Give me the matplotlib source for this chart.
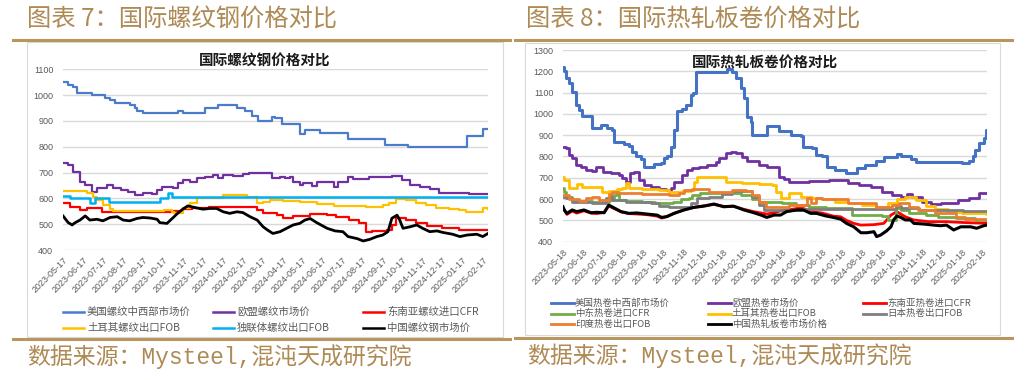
import matplotlib.pyplot as plt
import pandas as pd
from matplotlib.lines import Line2D
from matplotlib.patches import Rectangle

plt.rcParams['font.family'] = ['Noto Sans CJK SC', 'DejaVu Sans']

W, H = 1036, 380
GOLD = '#B8965E'
GOLD_TEXT = '#AE8A55'
GRID = '#D9D9D9'
LABEL = '#595959'

# ---------------- rebar (chart 7) ----------------
rebar_ticks = pd.date_range('2023-05-17', '2025-02-17', freq=pd.DateOffset(months=1))
rebar_end = '2025-02-25'

rebar_us = [('2023-05-17', 1050), ('2023-05-25', 1040), ('2023-06-01', 1030), ('2023-06-07', 1010),
            ('2023-06-30', 1000), ('2023-07-20', 990), ('2023-07-28', 980), ('2023-08-05', 970),
            ('2023-08-27', 960), ('2023-09-04', 950), ('2023-09-07', 940), ('2023-09-16', 930),
            ('2023-11-09', 940), ('2023-11-16', 930), ('2023-12-20', 950), ('2024-01-09', 960),
            ('2024-02-07', 950), ('2024-02-19', 940), ('2024-03-01', 920), ('2024-03-10', 900),
            ('2024-04-01', 915), ('2024-04-05', 910), ('2024-04-16', 890), ('2024-05-13', 850),
            ('2024-05-21', 865), ('2024-06-13', 855), ('2024-07-26', 830), ('2024-09-20', 805),
            ('2024-10-25', 800), ('2025-01-24', 840), ('2025-02-17', 870), ('2025-02-25', 870)]

rebar_eu = [('2023-05-17', 738), ('2023-05-25', 730), ('2023-06-01', 703), ('2023-06-12', 665),
            ('2023-06-20', 650), ('2023-06-30', 626), ('2023-07-08', 640), ('2023-07-24', 650),
            ('2023-08-02', 640), ('2023-08-13', 632), ('2023-08-24', 626), ('2023-09-04', 613),
            ('2023-09-16', 620), ('2023-09-30', 615), ('2023-10-08', 632), ('2023-10-16', 645),
            ('2023-11-01', 640), ('2023-11-09', 658), ('2023-11-16', 671), ('2023-11-27', 665),
            ('2023-12-08', 678), ('2023-12-20', 684), ('2024-01-01', 690), ('2024-01-09', 678),
            ('2024-01-17', 690), ('2024-02-01', 687), ('2024-02-16', 693), ('2024-02-26', 697),
            ('2024-04-01', 678), ('2024-04-13', 684), ('2024-04-20', 678), ('2024-04-28', 684),
            ('2024-05-02', 665), ('2024-05-13', 652), ('2024-05-18', 658), ('2024-06-01', 648),
            ('2024-06-09', 665), ('2024-07-04', 645), ('2024-07-10', 665), ('2024-07-26', 684),
            ('2024-08-03', 674), ('2024-08-27', 684), ('2024-10-01', 687), ('2024-10-16', 671),
            ('2024-10-28', 652), ('2024-11-13', 645), ('2024-11-28', 635), ('2024-12-12', 620),
            ('2025-01-27', 617), ('2025-02-25', 617)]

rebar_sea = [('2023-05-17', 581), ('2023-05-28', 568), ('2023-06-12', 555), ('2023-06-23', 561),
             ('2023-07-16', 546), ('2023-10-30', 546), ('2023-11-03', 551), ('2023-11-16', 558),
             ('2023-12-01', 564), ('2023-12-27', 568), ('2024-02-16', 568), ('2024-03-09', 555),
             ('2024-03-18', 542), ('2024-04-08', 536), ('2024-04-17', 523), ('2024-05-02', 532),
             ('2024-05-28', 539), ('2024-06-23', 536), ('2024-07-08', 526), ('2024-07-28', 516),
             ('2024-08-12', 503), ('2024-08-23', 471), ('2024-09-01', 474), ('2024-09-23', 477),
             ('2024-10-01', 497), ('2024-10-08', 523), ('2024-10-23', 516), ('2024-11-07', 503),
             ('2024-11-23', 493), ('2024-12-17', 484), ('2025-01-12', 477), ('2025-02-25', 477)]

rebar_tr = [('2023-05-17', 628), ('2023-06-23', 620), ('2023-07-02', 605), ('2023-07-08', 595),
            ('2023-07-17', 574), ('2023-07-28', 558), ('2023-08-01', 551), ('2023-10-12', 551),
            ('2023-10-19', 555), ('2023-10-30', 548), ('2023-11-03', 545), ('2023-11-16', 562),
            ('2023-11-27', 581), ('2023-12-08', 600), ('2023-12-27', 602), ('2024-01-17', 612),
            ('2024-02-07', 614), ('2024-02-22', 606), ('2024-03-09', 584), ('2024-03-18', 587),
            ('2024-03-29', 594), ('2024-04-18', 590), ('2024-05-13', 585), ('2024-06-09', 577),
            ('2024-07-04', 572), ('2024-07-30', 572), ('2024-08-23', 568), ('2024-09-17', 575),
            ('2024-09-27', 584), ('2024-10-08', 597), ('2024-10-22', 594), ('2024-11-07', 584),
            ('2024-11-22', 575), ('2024-12-07', 561), ('2024-12-27', 558), ('2025-01-12', 555),
            ('2025-01-22', 546), ('2025-02-01', 549), ('2025-02-17', 561), ('2025-02-25', 558)]

rebar_cis = [('2023-05-17', 610), ('2023-05-28', 602), ('2023-06-28', 581), ('2023-07-05', 602),
             ('2023-07-26', 587), ('2023-10-12', 600), ('2023-10-24', 620), ('2023-10-31', 605),
             ('2025-02-25', 605)]

rebar_cn = [('2023-05-17', 532), ('2023-05-25', 506), ('2023-05-31', 497), ('2023-06-04', 505),
            ('2023-06-12', 516), ('2023-06-20', 532), ('2023-06-27', 516), ('2023-07-08', 519),
            ('2023-07-17', 513), ('2023-07-28', 526), ('2023-08-08', 529), ('2023-08-17', 516),
            ('2023-08-27', 513), ('2023-09-07', 522), ('2023-09-16', 526), ('2023-09-27', 524),
            ('2023-10-08', 519), ('2023-10-12', 506), ('2023-10-23', 503), ('2023-10-31', 522),
            ('2023-11-07', 539), ('2023-11-16', 558), ('2023-11-24', 571), ('2023-12-02', 566),
            ('2023-12-17', 558), ('2023-12-28', 561), ('2024-01-07', 561), ('2024-01-17', 548),
            ('2024-01-27', 542), ('2024-02-07', 548), ('2024-02-16', 545), ('2024-02-27', 529),
            ('2024-03-09', 516), ('2024-03-18', 490), ('2024-03-25', 477), ('2024-04-02', 464),
            ('2024-04-13', 471), ('2024-04-23', 484), ('2024-05-03', 497), ('2024-05-13', 503),
            ('2024-05-21', 516), ('2024-05-29', 522), ('2024-06-08', 506), ('2024-06-24', 484),
            ('2024-07-06', 474), ('2024-07-18', 471), ('2024-07-26', 452), ('2024-08-09', 444),
            ('2024-08-18', 435), ('2024-08-28', 441), ('2024-09-08', 452), ('2024-09-17', 458),
            ('2024-09-25', 471), ('2024-10-01', 523), ('2024-10-09', 535), ('2024-10-13', 516),
            ('2024-10-18', 484), ('2024-10-29', 490), ('2024-11-08', 497), ('2024-11-17', 484),
            ('2024-11-28', 471), ('2024-12-09', 474), ('2024-12-18', 468), ('2025-01-02', 461),
            ('2025-01-13', 452), ('2025-01-24', 458), ('2025-02-08', 461), ('2025-02-17', 452),
            ('2025-02-25', 464)]

# ---------------- hot-rolled coil (chart 8) ----------------
hrc_ticks = pd.date_range('2023-05-18', '2025-02-18', freq=pd.DateOffset(months=1))
hrc_end = '2025-02-25'

hrc_us = [('2023-05-18', 1219), ('2023-05-20', 1200), ('2023-05-23', 1167), ('2023-05-27', 1144),
          ('2023-06-01', 1105), ('2023-06-07', 1042), ('2023-06-11', 1018), ('2023-06-16', 990),
          ('2023-07-01', 932), ('2023-07-15', 948), ('2023-07-24', 932), ('2023-08-01', 924),
          ('2023-08-04', 870), ('2023-08-19', 860), ('2023-08-27', 849), ('2023-09-01', 823),
          ('2023-09-07', 800), ('2023-09-14', 790), ('2023-09-19', 752), ('2023-10-04', 765),
          ('2023-10-15', 770), ('2023-10-19', 795), ('2023-10-24', 800), ('2023-10-30', 846),
          ('2023-11-04', 924), ('2023-11-08', 1015), ('2023-11-16', 1025), ('2023-11-22', 1042),
          ('2023-11-30', 1089), ('2023-12-03', 1096), ('2023-12-07', 1198), ('2024-01-24', 1209),
          ('2024-01-31', 1198), ('2024-02-07', 1167), ('2024-02-14', 1120), ('2024-02-19', 1073),
          ('2024-02-23', 987), ('2024-02-29', 964), ('2024-03-03', 901), ('2024-03-25', 943),
          ('2024-04-12', 918), ('2024-05-01', 901), ('2024-05-16', 897), ('2024-05-20', 846),
          ('2024-06-02', 838), ('2024-06-08', 807), ('2024-06-17', 800), ('2024-06-25', 752),
          ('2024-07-08', 737), ('2024-07-24', 721), ('2024-08-10', 748), ('2024-08-23', 760),
          ('2024-09-08', 780), ('2024-09-20', 796), ('2024-10-10', 810), ('2024-10-17', 800),
          ('2024-10-31', 787), ('2024-11-08', 776), ('2024-11-28', 772), ('2025-01-12', 776),
          ('2025-01-17', 768), ('2025-01-28', 780), ('2025-02-04', 800), ('2025-02-07', 830),
          ('2025-02-12', 862), ('2025-02-20', 885), ('2025-02-23', 924), ('2025-02-25', 924)]

hrc_eu = [('2023-05-18', 843), ('2023-05-22', 838), ('2023-05-27', 807), ('2023-06-01', 791),
          ('2023-06-07', 760), ('2023-06-14', 750), ('2023-06-22', 737), ('2023-07-01', 734),
          ('2023-07-08', 750), ('2023-07-15', 752), ('2023-07-18', 729), ('2023-07-30', 721),
          ('2023-08-12', 713), ('2023-08-16', 697), ('2023-08-22', 682), ('2023-08-28', 721),
          ('2023-09-04', 729), ('2023-09-11', 690), ('2023-09-19', 666), ('2023-09-30', 658),
          ('2023-10-12', 646), ('2023-10-22', 643), ('2023-10-30', 650), ('2023-11-04', 682),
          ('2023-11-16', 713), ('2023-11-24', 737), ('2023-12-01', 744), ('2023-12-12', 752),
          ('2023-12-24', 760), ('2024-01-07', 776), ('2024-01-12', 791), ('2024-01-22', 818),
          ('2024-01-30', 823), ('2024-02-07', 815), ('2024-02-16', 799), ('2024-02-23', 780),
          ('2024-03-13', 760), ('2024-03-25', 752), ('2024-04-12', 705), ('2024-04-20', 693),
          ('2024-04-28', 682), ('2024-05-28', 687), ('2024-06-28', 690), ('2024-07-28', 674),
          ('2024-08-13', 666), ('2024-09-01', 658), ('2024-09-17', 635), ('2024-10-02', 619),
          ('2024-10-17', 608), ('2024-10-25', 624), ('2024-11-02', 612), ('2024-11-17', 588),
          ('2024-12-02', 577), ('2024-12-17', 580), ('2025-01-02', 583), ('2025-01-12', 596),
          ('2025-01-28', 604), ('2025-02-12', 627), ('2025-02-23', 630), ('2025-02-25', 630)]

hrc_sea = [('2023-05-18', 558), ('2023-05-24', 528), ('2023-06-01', 544), ('2023-06-08', 534),
           ('2023-06-19', 545), ('2023-06-30', 534), ('2023-07-09', 532), ('2023-07-20', 538),
           ('2023-07-27', 568), ('2023-08-01', 560), ('2023-08-15', 540), ('2023-08-27', 532),
           ('2023-09-08', 530), ('2023-09-23', 527), ('2023-10-09', 520), ('2023-10-16', 511),
           ('2023-10-24', 518), ('2023-11-04', 533), ('2023-11-19', 549), ('2023-12-04', 561),
           ('2023-12-20', 569), ('2024-01-04', 575), ('2024-01-19', 566), ('2024-02-03', 566),
           ('2024-02-19', 552), ('2024-03-05', 541), ('2024-03-16', 535), ('2024-03-25', 530),
           ('2024-04-05', 536), ('2024-04-15', 545), ('2024-04-24', 548), ('2024-05-10', 556),
           ('2024-05-20', 556), ('2024-05-31', 541), ('2024-06-17', 535), ('2024-07-05', 520),
           ('2024-07-16', 517), ('2024-07-25', 500), ('2024-08-05', 486), ('2024-08-16', 478),
           ('2024-09-05', 480), ('2024-09-20', 486), ('2024-10-01', 525), ('2024-10-10', 541),
           ('2024-10-23', 517), ('2024-11-05', 502), ('2024-11-28', 494), ('2024-12-25', 494),
           ('2025-01-20', 490), ('2025-02-25', 486)]

hrc_me = [('2023-05-18', 651), ('2023-05-20', 635), ('2023-05-23', 610), ('2023-06-01', 596),
          ('2023-06-11', 593), ('2023-07-01', 588), ('2023-07-27', 596), ('2023-08-04', 619),
          ('2023-08-09', 627), ('2023-08-12', 596), ('2023-08-22', 591), ('2023-09-16', 588),
          ('2023-10-06', 580), ('2023-10-27', 583), ('2023-11-02', 588), ('2023-11-14', 599),
          ('2023-11-27', 604), ('2023-12-01', 619), ('2023-12-13', 630), ('2024-01-16', 627),
          ('2024-01-31', 630), ('2024-02-14', 619), ('2024-03-02', 599), ('2024-03-13', 588),
          ('2024-04-17', 580), ('2024-05-08', 572), ('2024-05-28', 564), ('2024-06-23', 556),
          ('2024-08-02', 525), ('2024-09-17', 520), ('2024-09-27', 502), ('2024-10-08', 556),
          ('2024-10-17', 549), ('2024-10-28', 533), ('2024-11-23', 525), ('2024-12-12', 514),
          ('2025-01-08', 510), ('2025-02-07', 503), ('2025-02-25', 503)]

hrc_tr = [('2023-05-18', 705), ('2023-05-20', 690), ('2023-05-27', 651), ('2023-06-08', 670),
          ('2023-06-16', 658), ('2023-07-17', 635), ('2023-07-27', 640), ('2023-08-09', 646),
          ('2023-08-16', 650), ('2023-08-22', 674), ('2023-08-27', 650), ('2023-09-16', 647),
          ('2023-10-12', 643), ('2023-10-27', 635), ('2023-11-16', 640), ('2023-11-30', 643),
          ('2023-12-04', 682), ('2023-12-09', 702), ('2024-01-22', 682), ('2024-02-16', 674),
          ('2024-03-13', 670), ('2024-04-02', 666), ('2024-04-08', 635), ('2024-04-15', 604),
          ('2024-04-28', 627), ('2024-05-17', 611), ('2024-06-02', 604), ('2024-06-17', 599),
          ('2024-07-08', 588), ('2024-07-28', 580), ('2024-08-17', 572), ('2024-09-08', 564),
          ('2024-09-27', 583), ('2024-10-10', 599), ('2024-10-23', 611), ('2024-11-08', 596),
          ('2024-11-23', 568), ('2024-12-08', 552), ('2024-12-28', 541), ('2025-01-17', 533),
          ('2025-02-23', 528), ('2025-02-25', 528)]

hrc_jp = [('2023-05-18', 611), ('2023-05-23', 604), ('2023-06-01', 588), ('2023-07-01', 583),
          ('2023-07-23', 604), ('2023-07-29', 615), ('2023-08-01', 596), ('2023-08-22', 588),
          ('2023-09-30', 580), ('2023-10-12', 567), ('2023-10-27', 564), ('2023-11-30', 580),
          ('2023-12-09', 604), ('2023-12-27', 611), ('2024-01-16', 624), ('2024-01-31', 640),
          ('2024-03-02', 611), ('2024-03-13', 572), ('2024-03-20', 549), ('2024-05-20', 553),
          ('2024-10-08', 567), ('2024-10-17', 556), ('2024-11-13', 549), ('2025-01-20', 546),
          ('2025-02-25', 546)]

hrc_in = [('2023-05-18', 620), ('2023-05-27', 600), ('2023-06-11', 591), ('2023-06-22', 604),
          ('2023-07-01', 611), ('2023-07-12', 596), ('2023-07-27', 624), ('2023-08-01', 635),
          ('2023-08-12', 627), ('2023-09-16', 624), ('2023-10-27', 619), ('2023-11-11', 630),
          ('2023-11-19', 643), ('2023-12-01', 646), ('2023-12-27', 635), ('2024-01-31', 643),
          ('2024-02-22', 640), ('2024-03-02', 619), ('2024-03-13', 588), ('2024-03-23', 564),
          ('2024-04-28', 572), ('2024-05-25', 604), ('2024-05-31', 580), ('2024-06-08', 604),
          ('2024-06-17', 599), ('2024-07-28', 583), ('2024-08-17', 580), ('2024-09-08', 564),
          ('2024-10-02', 572), ('2024-10-13', 580), ('2024-10-28', 564), ('2024-11-12', 549),
          ('2024-12-08', 533), ('2025-01-08', 514), ('2025-01-23', 505), ('2025-02-23', 500),
          ('2025-02-25', 500)]

hrc_cn = [('2023-05-18', 564), ('2023-05-20', 549), ('2023-05-24', 533), ('2023-06-01', 549),
          ('2023-06-08', 541), ('2023-06-19', 549), ('2023-06-30', 536), ('2023-07-09', 538),
          ('2023-07-20', 536), ('2023-07-27', 572), ('2023-08-01', 564), ('2023-08-15', 541),
          ('2023-08-27', 533), ('2023-09-08', 535), ('2023-09-23', 530), ('2023-10-09', 525),
          ('2023-10-16', 514), ('2023-10-24', 518), ('2023-11-04', 533), ('2023-11-19', 549),
          ('2023-12-04', 561), ('2023-12-20', 567), ('2024-01-04', 577), ('2024-01-19', 564),
          ('2024-02-03', 567), ('2024-02-19', 549), ('2024-03-05', 536), ('2024-03-16', 525),
          ('2024-03-25', 514), ('2024-04-05', 525), ('2024-04-15', 525), ('2024-04-24', 541),
          ('2024-05-10', 549), ('2024-05-20', 549), ('2024-05-31', 533), ('2024-06-09', 533),
          ('2024-06-23', 521), ('2024-07-05', 514), ('2024-07-16', 506), ('2024-07-25', 486),
          ('2024-08-05', 470), ('2024-08-16', 442), ('2024-08-25', 442), ('2024-09-05', 447),
          ('2024-09-09', 424), ('2024-09-15', 431), ('2024-09-24', 450), ('2024-10-01', 470),
          ('2024-10-05', 502), ('2024-10-10', 521), ('2024-10-16', 514), ('2024-10-23', 502),
          ('2024-10-31', 502), ('2024-11-05', 486), ('2024-11-20', 483), ('2024-12-05', 478),
          ('2024-12-16', 475), ('2024-12-25', 478), ('2025-01-05', 455), ('2025-01-16', 470),
          ('2025-01-31', 470), ('2025-02-09', 463), ('2025-02-20', 475), ('2025-02-25', 478)]

rebar_series = [
    ('美国螺纹中西部市场价', rebar_us, '#4A7CCB', 1.6, True),
    ('欧盟螺纹市场价', rebar_eu, '#7030A0', 1.6, True),
    ('东南亚螺纹进口CFR', rebar_sea, '#FF0000', 1.6, True),
    ('土耳其螺纹出口FOB', rebar_tr, '#FFC000', 1.6, True),
    ('独联体螺纹出口FOB', rebar_cis, '#00B0F0', 1.8, True),
    ('中国螺纹钢市场价', rebar_cn, '#000000', 2.0, False),
]

hrc_series = [
    ('美国热卷中西部市场价', hrc_us, '#4472C4', 2.2, True),
    ('欧盟热卷市场价', hrc_eu, '#7030A0', 2.0, True),
    ('东南亚热卷进口CFR', hrc_sea, '#FF0000', 2.0, False),
    ('中东热卷进口CFR', hrc_me, '#70AD47', 2.0, True),
    ('土耳其热卷出口FOB', hrc_tr, '#FFC000', 2.0, True),
    ('日本热卷出口FOB', hrc_jp, '#7F7F7F', 2.0, True),
    ('印度热卷出口FOB', hrc_in, '#ED7D31', 2.0, True),
    ('中国热轧板卷市场价格', hrc_cn, '#000000', 2.2, False),
]


def fx(x):
    return x / W


def fy(y):
    return 1 - y / H


fig = plt.figure(figsize=(W / 100, H / 100), dpi=100)


def frame(title, tx, gx0, gx1, box, bot_y, footer_x, footer_y):
    fig.text(fx(tx), fy(20), title, fontsize=17.5, color=GOLD_TEXT, va='center', ha='left')
    fig.add_artist(Line2D([fx(gx0), fx(gx1)], [fy(40), fy(40)], color=GOLD, lw=2.2))
    fig.add_artist(Line2D([fx(gx0), fx(gx1)], [fy(bot_y), fy(bot_y)], color=GOLD, lw=2.2))
    bx0, by0, bx1, by1 = box
    fig.add_artist(Rectangle((fx(bx0), fy(by1)), fx(bx1) - fx(bx0), fy(by0) - fy(by1),
                             fill=False, edgecolor=GRID, lw=0.8))
    fig.text(fx(footer_x), fy(footer_y), '数据来源：Mysteel,混沌天成研究院', fontsize=16.5,
             color=GOLD_TEXT, va='center', ha='left',
             family=['Liberation Mono', 'Noto Sans CJK SC'])


def panel(rect, series, ticks, end, ylim, ystep, inner_title, title_pos):
    x0, y0, x1, y1 = rect
    ax = fig.add_axes([fx(x0), fy(y1), fx(x1) - fx(x0), fy(y0) - fy(y1)])
    for label, pts, color, lw, step in series:
        d = pd.to_datetime([p[0] for p in pts])
        v = [p[1] for p in pts]
        ax.plot(d, v, color=color, lw=lw, drawstyle='steps-post' if step else 'default',
                solid_joinstyle='round')
    ax.set_xlim(ticks[0], pd.Timestamp(end))
    ax.set_ylim(*ylim)
    ax.set_yticks(range(ylim[0], ylim[1] + 1, ystep))
    ax.set_xticks(ticks)
    ax.set_xticklabels([t.strftime('%Y-%m-%d') for t in ticks], rotation=45, ha='right',
                       va='top', rotation_mode='anchor', family='Liberation Sans')
    for lab in ax.get_yticklabels():
        lab.set_family('Liberation Sans')
    ax.tick_params(length=0, labelsize=6.5, colors=LABEL)
    ax.tick_params(axis='x', pad=4)
    ax.tick_params(axis='y', pad=7)
    ax.grid(axis='y', color=GRID, lw=1)
    ax.set_axisbelow(True)
    for s in ax.spines.values():
        s.set_visible(False)
    ax.patch.set_alpha(0)
    fig.text(fx(title_pos[0]), fy(title_pos[1]), inner_title, fontsize=10.5, weight='bold',
             ha='center', va='center', color='#1A1A1A')
    return ax


def legend(series, cols, rows, length, gap, fs, lw):
    for i, (label, pts, color, _, _) in enumerate(series):
        r, c = divmod(i, len(cols))
        x, y = cols[c], rows[r]
        fig.add_artist(Line2D([fx(x), fx(x + length)], [fy(y), fy(y)], color=color, lw=lw))
        fig.text(fx(x + length + gap), fy(y), label, fontsize=fs, color=LABEL, va='center',
                 ha='left')


# left panel
frame('图表 7：国际螺纹钢价格对比', 27, 13, 510, (27, 42, 503, 337), 338.5, 27, 357)
panel((63, 69.3, 488, 250), rebar_series, rebar_ticks, rebar_end, (400, 1100), 100,
      '国际螺纹钢价格对比', (265, 60))
legend(rebar_series, [63, 213, 363], [311.7, 327.7], 21, 3, 7.5, 1.8)

# right panel
frame('图表 8：国际热轧板卷价格对比', 526, 515, 1012, (525, 43, 1000, 335), 337.5, 527, 356)
panel((563, 50, 987, 241.7), hrc_series, hrc_ticks, hrc_end, (400, 1300), 100,
      '国际热轧板卷价格对比', (765, 63))
legend(hrc_series, [551, 708, 863], [303.3, 313.5, 324], 23, 1, 6.8, 2.0)

fig.savefig('out.png', dpi=100)
